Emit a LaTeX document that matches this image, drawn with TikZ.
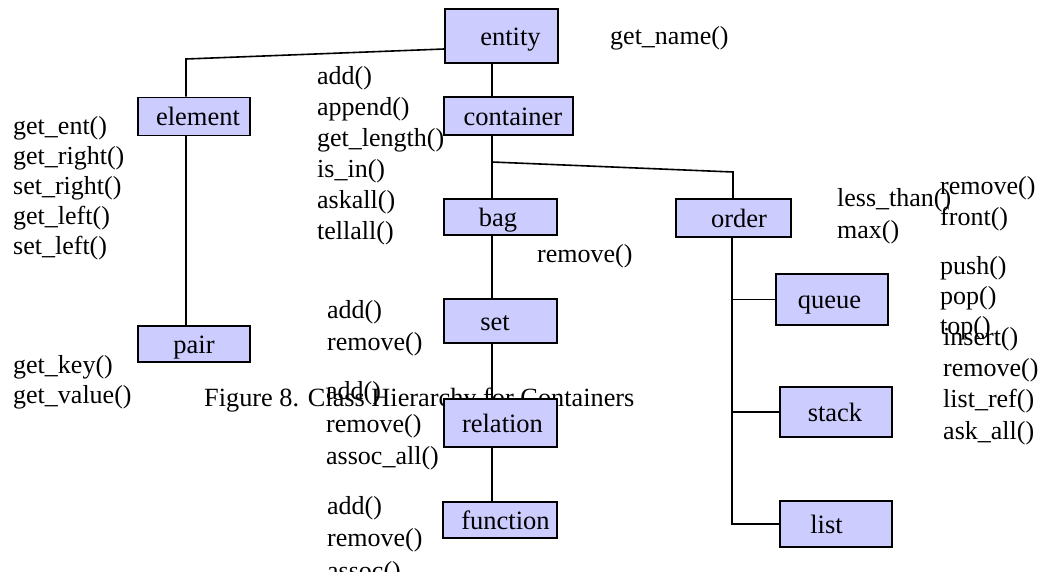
\documentclass[tikz,border=0pt]{standalone}
\usepackage{fontspec}
\setmainfont{Liberation Serif}
\definecolor{boxfill}{RGB}{204,204,255}
\newlength{\clspad}
\tikzset{
  lp/.code={\setlength{\clspad}{#1}},
  cls/.style={draw=black, fill=boxfill, line width=1.6pt, inner sep=0pt,
    text height=21pt, text depth=3pt, lp=0pt,
    font=\fontsize{26.5}{30}\selectfont, execute at begin node={\hspace*{\clspad}}},
  meth/.style={anchor=west, inner sep=0pt, yshift=-1.5pt, font=\fontsize{26}{30}\selectfont},
  conn/.style={line width=1.6pt, draw=black},
}
\begin{document}
\begin{tikzpicture}[x=1pt,y=-1pt]
\useasboundingbox (0,0) rectangle (1044,571);
\fill[white] (0,0) rectangle (1044,571);
% caption (drawn first, boxes cover it)
\node[meth, font=\fontsize{26.3}{30}\selectfont] (cap) at (204,399) {Figure 8. Class Hierarchy for Containers};
% method labels
\node[meth] (gn) at (610,37) {get\_name()};
\node[meth] (c1) at (317,77) {add()};
\node[meth] (c2) at (317,108) {append()};
\node[meth] (c3) at (317,139) {get\_length()};
\node[meth] (c4) at (317,170) {is\_in()};
\node[meth] (c5) at (317,201) {askall()};
\node[meth] (c6) at (317,232) {tellall()};
\node[meth] (e1) at (13,127) {get\_ent()};
\node[meth] (e2) at (13,157) {get\_right()};
\node[meth] (e3) at (13,187) {set\_right()};
\node[meth] (e4) at (13,217) {get\_left()};
\node[meth] (e5) at (13,247) {set\_left()};
\node[meth] (p1) at (13,366) {get\_key()};
\node[meth] (p2) at (13,396) {get\_value()};
\node[meth] (b1) at (537,255) {remove()};
\node[meth] (s1) at (327,311) {add()};
\node[meth] (s2) at (327,343) {remove()};
\node[meth] (r1) at (326,392) {add()};
\node[meth] (r2) at (326,425) {remove()};
\node[meth] (r3) at (326,457) {assoc\_all()};
\node[meth] (f1) at (327,507) {add()};
\node[meth] (f2) at (327,539) {remove()};
\node[meth] (f3) at (327,572) {assoc()};
\node[meth] (o1) at (837,199) {less\_than()};
\node[meth] (o2) at (837,231) {max()};
\node[meth] (q1) at (940,187) {remove()};
\node[meth] (q2) at (940,218) {front()};
\node[meth] (k1) at (940,267) {push()};
\node[meth] (k2) at (940,297) {pop()};
\node[meth] (k3) at (940,327) {top()};
\node[meth] (l1) at (943,338) {insert()};
\node[meth] (l2) at (943,369) {remove()};
\node[meth] (l3) at (943,400) {list\_ref()};
\node[meth] (l4) at (943,432) {ask\_all()};
% class boxes
\node[cls, lp=18pt, minimum width=113pt, minimum height=54pt] (entity) at (501.5,36) {entity};
\node[cls, lp=9pt, minimum width=129pt, minimum height=38pt] (container) at (508.5,116) {container};
\node[cls, lp=8pt, minimum width=112pt, minimum height=38pt] (element) at (194,116.5) {element};
\node[cls, lp=0pt, minimum width=112pt, minimum height=36pt] (pair) at (194,344) {pair};
\node[cls, lp=-5pt, minimum width=113pt, minimum height=36pt] (bag) at (500.5,217) {bag};
\node[cls, lp=-11pt, minimum width=113pt, minimum height=44pt] (set) at (500.5,321) {set};
\node[cls, lp=4pt, minimum width=113pt, minimum height=48pt] (relation) at (500.5,423) {relation};
\node[cls, lp=11pt, minimum width=114pt, minimum height=36pt] (function) at (500,520) {function};
\node[cls, lp=11pt, minimum width=115pt, minimum height=38pt] (order) at (733.5,218) {order};
\node[cls, lp=-5pt, minimum width=112pt, minimum height=51pt] (queue) at (832,299.5) {queue};
\node[cls, lp=-2pt, minimum width=112pt, minimum height=50pt] (stack) at (836,412) {stack};
\node[cls, lp=-19pt, minimum width=112pt, minimum height=46pt] (list) at (836,524) {list};
% connectors
\coordinate (j1) at (186,59);
\coordinate (spine) at (492,0);
\coordinate (j2) at (492,162);
\coordinate (j3) at (733,172);
\coordinate (ospine) at (732,0);
\draw[conn] ([yshift=-13pt]entity.west) -- (j1) -- (j1 |- element.north);
\draw[conn] (j1 |- element.south) -- (j1 |- pair.north);
\draw[conn] (entity.south -| spine) -- (container.north -| spine);
\draw[conn] (container.south -| spine) -- (bag.north -| spine);
\draw[conn] (j2) -- (j3) -- (j3 |- order.north);
\draw[conn] (bag.south -| spine) -- (set.north -| spine);
\draw[conn] (set.south -| spine) -- (relation.north -| spine);
\draw[conn] (relation.south -| spine) -- (function.north -| spine);
\draw[conn] (order.south -| ospine) -- (ospine |- list.west) -- (list.west);
\draw[conn] (ospine |- queue.west) -- (queue.west);
\draw[conn] (ospine |- stack.west) -- (stack.west);
\end{tikzpicture}
\end{document}
